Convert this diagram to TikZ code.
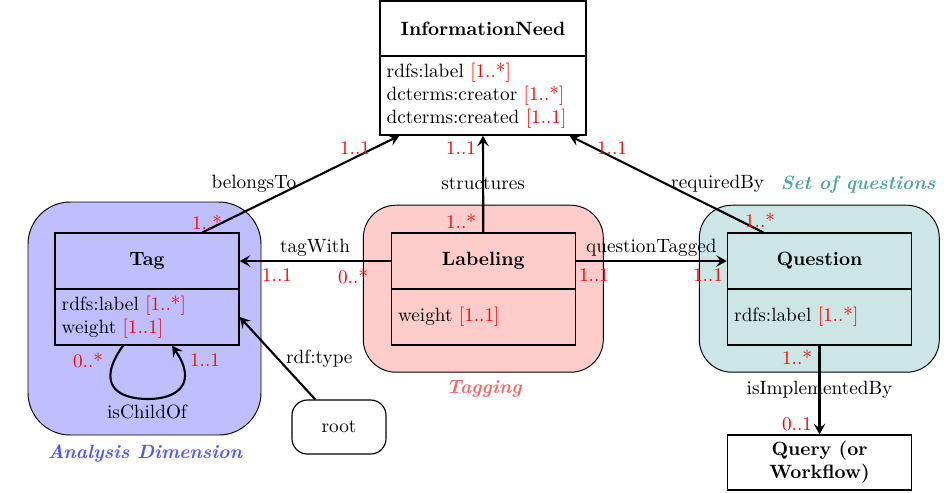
\documentclass[tikz,border=0pt]{standalone}
\usetikzlibrary{calc,arrows.meta}
\definecolor{tagfill}{RGB}{191,191,255}
\definecolor{labfill}{RGB}{255,204,204}
\definecolor{qfill}{RGB}{204,229,229}
\definecolor{tagtxt}{RGB}{85,85,255}
\definecolor{labtxt}{RGB}{255,102,102}
\definecolor{qtxt}{RGB}{77,166,166}
\begin{document}
\begin{tikzpicture}[x=0.52pt,y=-0.52pt,
  conn/.style={line width=1.1pt,-{Stealth[length=5.5pt,width=6pt,inset=2.2pt]}},
  mult/.style={text=red,inner sep=0pt},
  rel/.style={inner sep=2pt},
  grp/.style={draw,line width=0.5pt,rounded corners=#1},
  chead/.style={draw,line width=0.7pt,font=\bfseries,minimum width={184*0.52pt},minimum height={56*0.52pt},inner sep=0pt},
  cbody/.style={draw,line width=0.7pt,align=left,text width=88.68pt,inner xsep=3.5pt,inner ysep=0pt,minimum height={56*0.52pt}},
  grplabel/.style={font=\bfseries\itshape,inner sep=0pt},
]
\useasboundingbox (0,0) rectangle (944,492);

% groups
\node[grp=22pt,fill=tagfill,minimum width={233*0.52pt},minimum height={233*0.52pt}] (tagg) at (144.5,318.5) {};
\node[grp=17pt,fill=labfill,minimum width={240*0.52pt},minimum height={167*0.52pt}] (labg) at (483.3,288.7) {};
\node[grp=17pt,fill=qfill,minimum width={240*0.52pt},minimum height={167*0.52pt}] (qg) at (819.3,288.7) {};

\node[grplabel,text=tagtxt] (tagglab) at (145,454) {Analysis Dimension};
\node[grplabel,text=labtxt] (labglab) at (484,389) {Tagging};
\node[grplabel,text=qtxt] (qglab) at (858,185) {Set of questions};

% InformationNeed
\node[chead,minimum width={206*0.52pt},minimum height={55*0.52pt}] (infh) at (483,28.5) {InformationNeed};
\node[cbody,text width=100.12pt,minimum height={79*0.52pt}] (infb) at (483,95.5)
  {rdfs:label \textcolor{red}{[1..*]}\\ dcterms:creator \textcolor{red}{[1..*]}\\ dcterms:created \textcolor{red}{[1..1]}};

% Tag
\node[chead] (tagh) at (147,261) {Tag};
\node[cbody] (tagb) at (147,317) {rdfs:label \textcolor{red}{[1..*]}\\ weight \textcolor{red}{[1..1]}};

% Labeling
\node[chead] (labh) at (483.3,261) {Labeling};
\node[cbody] (labb) at (483.3,317) {weight \textcolor{red}{[1..1]}};

% Question
\node[chead] (qh) at (819.5,261) {Question};
\node[cbody] (qb) at (819.5,317) {rdfs:label \textcolor{red}{[1..*]}};

% Query
\node[chead,minimum height={55*0.52pt},align=center] (query) at (819.5,462.5) {Query (or\\ Workflow)};

% root
\node[draw,line width=0.6pt,rounded corners=8pt,minimum width={94*0.52pt},minimum height={54*0.52pt}] (root) at (339,427) {root};

% connectors
\draw[conn] ($(tagh.north west)!0.8!(tagh.north east)$) -- node[anchor=east,rel]{belongsTo} ($(infb.south west)!0.097!(infb.south east)$);
\draw[conn] (labh.north) -- node[rel]{structures} (infb.south);
\draw[conn] ($(qh.north west)!0.196!(qh.north east)$) -- node[anchor=west,rel]{requiredBy} ($(infb.south west)!0.917!(infb.south east)$);
\draw[conn] (labh.west) -- node[above,rel]{tagWith} (tagh.east);
\draw[conn] (labh.east) -- node[above,rel]{questionTagged} (qh.west);
\draw[conn] (qb.south) -- node[rel]{isImplementedBy} (query.north);
\draw[conn] ($(root.north)!0.5!(root.north west)$) -- node[anchor=west,rel,xshift=2pt]{rdf:type} (tagb.east);
\draw[conn] ($(tagb.south)+(-24,0)$) .. controls (95,385) and (118,399) .. (148,399) .. controls (178,399) and (198,383) .. ($(tagb.south)+(25,0)$);
\node[rel] (ischild) at (147,412) {isChildOf};

% multiplicities
\node[mult] (m1) at (207,222) {1..*};
\node[mult] (m2) at (355,148) {1..1};
\node[mult] (m3) at (461,148) {1..1};
\node[mult] (m4) at (461,221) {1..*};
\node[mult] (m5) at (612,148) {1..1};
\node[mult] (m6) at (760,220) {1..*};
\node[mult] (m7) at (277,275) {1..1};
\node[mult] (m8) at (353,276) {0..*};
\node[mult] (m9) at (594,275) {1..1};
\node[mult] (m10) at (708,275) {1..1};
\node[mult] (m11) at (797,357) {1..*};
\node[mult] (m12) at (797,424) {0..1};
\node[mult] (m13) at (88,360) {0..*};
\node[mult] (m14) at (205,360) {1..1};
\end{tikzpicture}
\end{document}
